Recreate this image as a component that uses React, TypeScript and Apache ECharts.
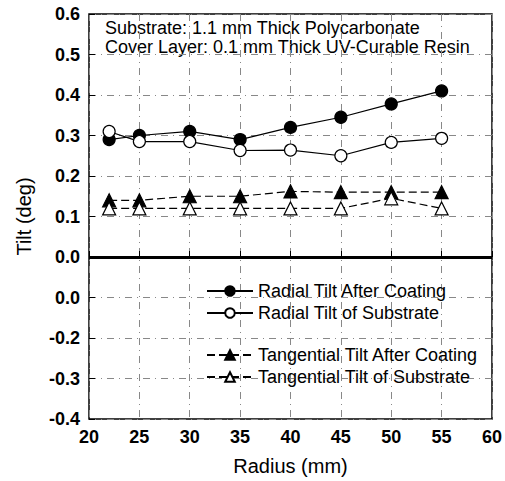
import React, { useEffect, useRef } from "react";
import * as echarts from "echarts";

const radius = [22, 25, 30, 35, 40, 45, 50, 55];
const radialAfter = [0.29, 0.3, 0.31, 0.29, 0.32, 0.345, 0.378, 0.41];
const radialSubstrate = [0.31, 0.285, 0.285, 0.263, 0.264, 0.25, 0.283, 0.293];
const tangAfter = [0.14, 0.14, 0.15, 0.15, 0.162, 0.16, 0.16, 0.16];
const tangSubstrate = [0.12, 0.12, 0.12, 0.12, 0.12, 0.12, 0.145, 0.12];
// tick labels from bottom (-0.4) to top (0.6), as printed
const yTickLabels = ["-0.4", "-0.3", "-0.2", "0.0", "0.0", "0.1", "0.2", "0.3", "0.4", "0.5", "0.6"];
const seriesNames = [
  "Radial Tilt After Coating",
  "Radial Tilt of Substrate",
  "Tangential Tilt After Coating",
  "Tangential Tilt of Substrate",
];
const noteLines = ["Substrate: 1.1 mm Thick Polycarbonate", "Cover Layer: 0.1 mm Thick UV-Curable Resin"];

const FONT = "Liberation Sans, Arial, sans-serif";

export default function App() {
  const ref = useRef<HTMLDivElement>(null);
  useEffect(() => {
    const chart = echarts.init(ref.current!, null, { renderer: "svg" });
    const pair = (ys: number[]) => radius.map((x, i) => [x, ys[i]]);
    const grid = { lineStyle: { color: "#888", width: 1, type: [7, 5, 1, 5] } };
    const mk = (name: string, data: number[], symbol: string, filled: boolean, dashed: boolean) => ({
      type: "line",
      name,
      data: pair(data),
      symbol,
      symbolSize: symbol === "circle" ? 12 : 13,
      lineStyle: { color: "#000", width: 1.2, type: dashed ? [8, 4] : "solid" },
      itemStyle: { color: filled ? "#000" : "#fff", borderColor: "#000", borderWidth: 1.2 },
      z: 3,
    });
    const s0: any = mk(seriesNames[0], radialAfter, "circle", true, false);
    s0.markLine = {
      silent: true,
      symbol: "none",
      label: { show: false },
      lineStyle: { color: "#000", width: 3, type: "solid" },
      data: [{ yAxis: 0 }],
    };
    const legendBase = {
      orient: "vertical",
      left: 201,
      itemWidth: 46,
      itemHeight: 12,
      itemGap: 4,
      textStyle: { fontFamily: FONT, fontSize: 18, color: "#000" },
    };
    chart.setOption({
      animation: false,
      grid: { left: 89, right: 12, top: 14, bottom: 61, show: true, borderColor: "#000", borderWidth: 1.5 },
      xAxis: {
        type: "value",
        min: 20,
        max: 60,
        interval: 5,
        name: "Radius (mm)",
        nameLocation: "middle",
        nameGap: 37,
        nameTextStyle: { fontFamily: FONT, fontSize: 20, color: "#000" },
        axisLine: { show: false },
        axisTick: { show: true, inside: true, length: 6, lineStyle: { color: "#000" } },
        axisLabel: { fontFamily: FONT, fontSize: 18, color: "#000", fontWeight: "bold", margin: 9 },
        splitLine: { show: true, ...grid },
      },
      yAxis: {
        type: "value",
        min: -0.4,
        max: 0.6,
        interval: 0.1,
        name: "Tilt (deg)",
        nameLocation: "middle",
        nameGap: 55,
        nameTextStyle: { fontFamily: FONT, fontSize: 20, color: "#000" },
        axisLine: { show: false },
        axisTick: { show: true, inside: true, length: 6, lineStyle: { color: "#000" } },
        axisLabel: {
          fontFamily: FONT,
          fontSize: 18,
          color: "#000",
          fontWeight: "bold",
          margin: 9,
          formatter: (v: number) => yTickLabels[Math.round((v + 0.4) / 0.1)] ?? "",
        },
        splitLine: { show: true, ...grid },
      },
      legend: [
        { ...legendBase, data: [seriesNames[0], seriesNames[1]], top: 277 },
        { ...legendBase, data: [seriesNames[2], seriesNames[3]], top: 341 },
      ],
      graphic: [
        {
          type: "text",
          left: 105,
          top: 18,
          style: { text: noteLines.join("\n"), fontFamily: FONT, fontSize: 18, lineHeight: 19, fill: "#000" },
        },
      ],
      series: [
        s0,
        mk(seriesNames[1], radialSubstrate, "circle", false, false),
        mk(seriesNames[2], tangAfter, "triangle", true, true),
        mk(seriesNames[3], tangSubstrate, "triangle", false, true),
      ],
    });
    return () => chart.dispose();
  }, []);
  return <div ref={ref} style={{ width: 505, height: 481, position: "absolute", left: 0, top: 0 }} />;
}
